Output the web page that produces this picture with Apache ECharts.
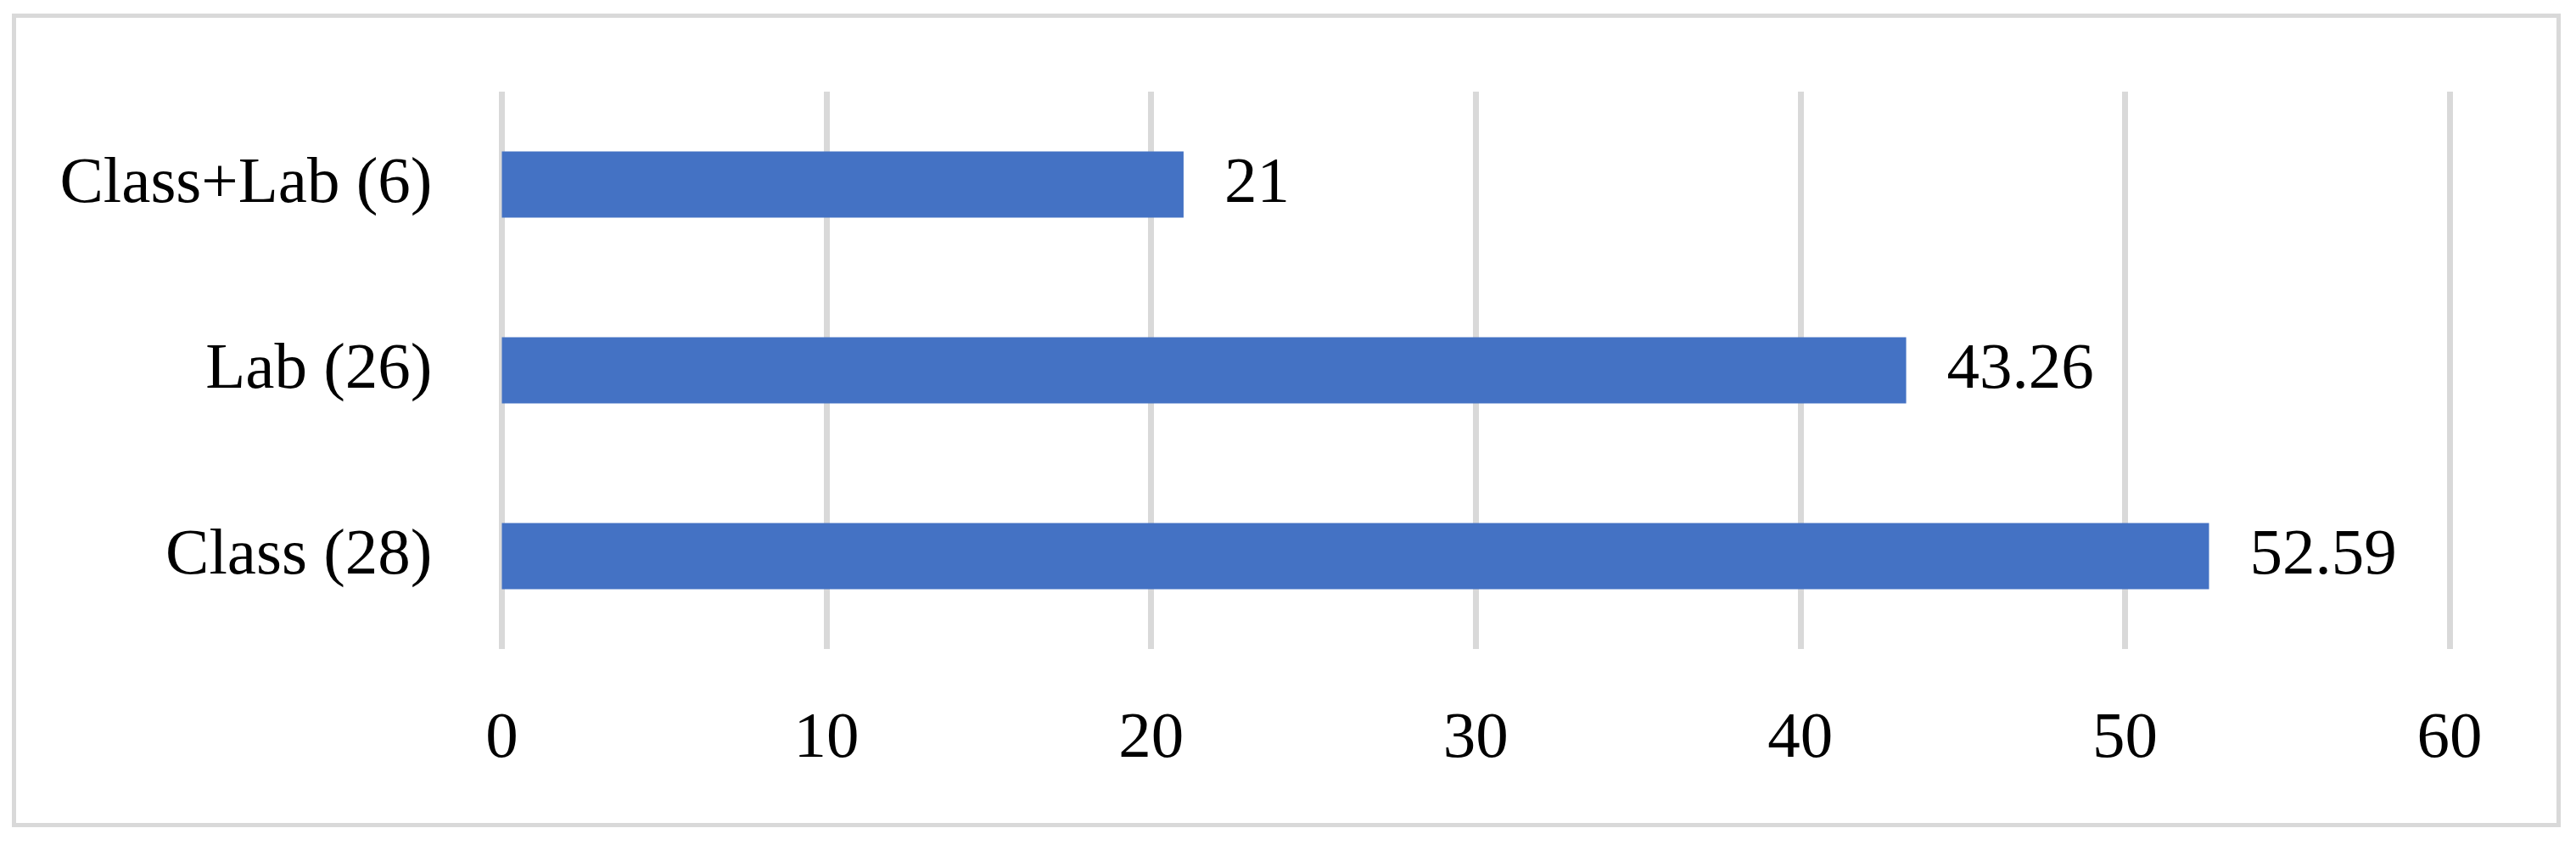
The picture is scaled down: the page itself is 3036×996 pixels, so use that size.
<!DOCTYPE html>
<html>
<head>
<meta charset="utf-8">
<script src="https://cdn.jsdelivr.net/npm/echarts@6/dist/echarts.min.js"></script>
<style>
html,body{margin:0;padding:0;background:#fff;}
#chart{width:3036px;height:996px;}
</style>
</head>
<body>
<div id="chart"></div>
<script>
const categories = ['Class (28)', 'Lab (26)', 'Class+Lab (6)'];
const values = [52.59, 43.26, 21];
const xTicks = [0, 10, 20, 30, 40, 50, 60];

const FONT = '"Liberation Serif", "Times New Roman", serif';
const chart = echarts.init(document.getElementById('chart'), null, {renderer: 'canvas'});
chart.setOption({
  animation: false,
  backgroundColor: '#ffffff',
  graphic: [{
    type: 'rect',
    shape: {x: 16.5, y: 18.5, width: 2999, height: 954},
    style: {fill: 'none', stroke: '#D9D9D9', lineWidth: 5},
    silent: true
  }],
  grid: {left: 591.5, right: 149, top: 108, bottom: 231, containLabel: false},
  xAxis: {
    type: 'value',
    min: xTicks[0],
    max: xTicks[xTicks.length - 1],
    interval: 10,
    axisLine: {show: false},
    axisTick: {show: false},
    splitLine: {show: true, lineStyle: {color: '#D9D9D9', width: 7}},
    axisLabel: {
      margin: 68,
      color: '#000',
      fontFamily: FONT,
      fontSize: 77,
      formatter: v => String(v)
    }
  },
  yAxis: {
    type: 'category',
    data: categories,
    axisLine: {show: false},
    axisTick: {show: false},
    splitLine: {show: false},
    axisLabel: {
      margin: 82,
      color: '#000',
      fontFamily: FONT,
      fontSize: 77
    }
  },
  series: [{
    type: 'bar',
    data: values,
    barWidth: 78,
    itemStyle: {color: '#4472C4'},
    label: {
      show: true,
      position: 'right',
      distance: 48,
      color: '#000',
      fontFamily: FONT,
      fontSize: 77,
      formatter: p => String(p.value)
    }
  }]
});
</script>
</body>
</html>
